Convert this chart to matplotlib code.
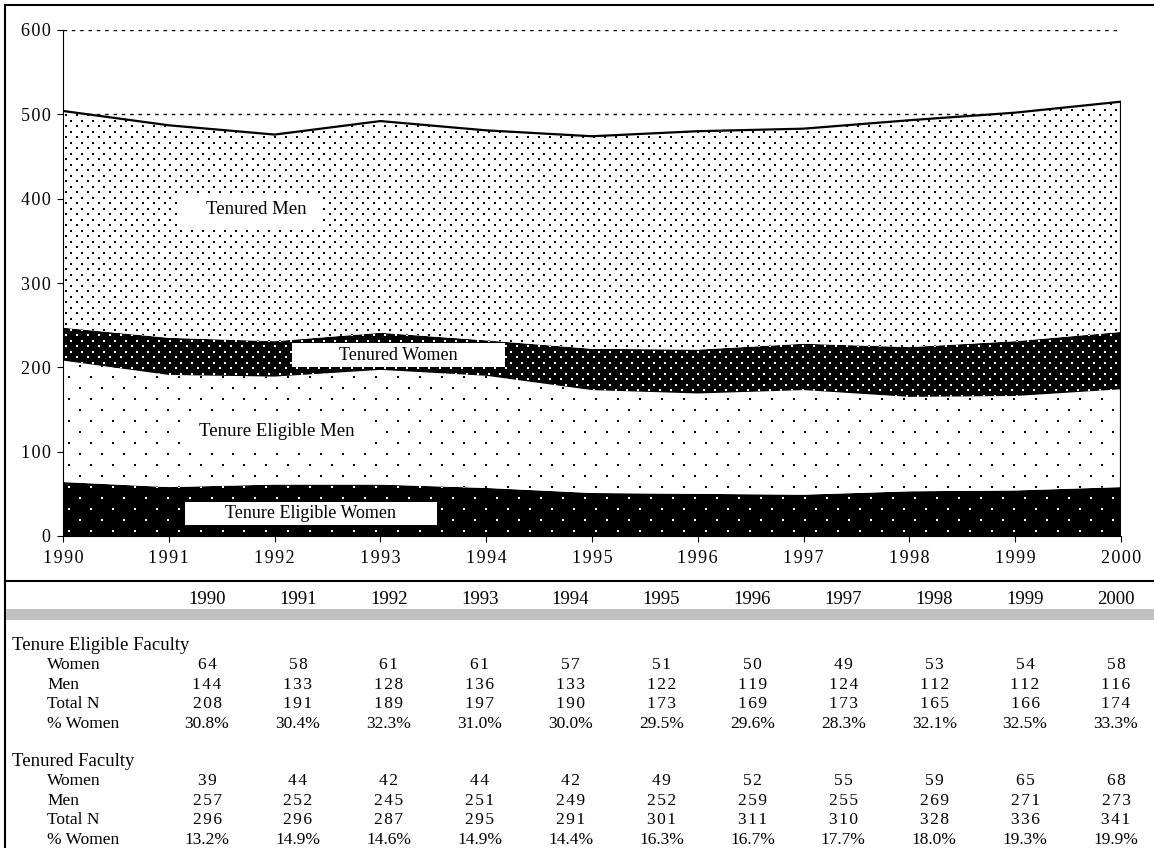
import numpy as np
import matplotlib.pyplot as plt
from matplotlib.patches import Rectangle
from matplotlib.lines import Line2D

plt.rcParams['font.family'] = ['Liberation Serif', 'DejaVu Serif']

# data
years = [1990, 1991, 1992, 1993, 1994, 1995, 1996, 1997, 1998, 1999, 2000]

te_women = [64, 58, 61, 61, 57, 51, 50, 49, 53, 54, 58]
te_men = [144, 133, 128, 136, 133, 122, 119, 124, 112, 112, 116]
te_total = [208, 191, 189, 197, 190, 173, 169, 173, 165, 166, 174]
te_pct = ['30.8%', '30.4%', '32.3%', '31.0%', '30.0%', '29.5%', '29.6%', '28.3%', '32.1%', '32.5%', '33.3%']

t_women = [39, 44, 42, 44, 42, 49, 52, 55, 59, 65, 68]
t_men = [257, 252, 245, 251, 249, 252, 259, 255, 269, 271, 273]
t_total = [296, 296, 287, 295, 291, 301, 311, 310, 328, 336, 341]
t_pct = ['13.2%', '14.9%', '14.6%', '14.9%', '14.4%', '16.3%', '16.7%', '17.7%', '18.0%', '19.3%', '19.9%']

W, H = 1154, 848
fig = plt.figure(figsize=(W / 100, H / 100), dpi=100)


def fx(x):
    return x / W


def fy(y):
    return 1 - y / H


def spaced(s):
    # a little tracking between characters
    s = str(s)
    if s.endswith('%'):
        return s
    return '\u200a'.join(s)


# chart area (pixel box 63..1121 x 30..536)
ax = fig.add_axes([fx(63), fy(536), fx(1121) - fx(63), fy(30) - fy(536)])
ax.set_xlim(1990, 2000)
ax.set_ylim(0, 600)

x = np.array(years, dtype=float)
b0 = np.zeros(len(x))
b1 = b0 + te_women
b2 = b1 + te_men
b3 = b2 + t_women
b4 = b3 + t_men

px_x = ax.bbox.width / 10.0    # pixels per year
px_y = ax.bbox.height / 600.0  # pixels per unit


def dx_(px):
    return 1990 + (px - 63) / px_x


def dy_(py):
    return (536 - py) / px_y


def dots(step_x, step_y):
    # staggered dot grid, spacing given in pixels
    dx = step_x / px_x
    dy = step_y / px_y
    xs, ys = [], []
    row = 0
    yy = dy * 0.5
    while yy < 600:
        off = 0 if row % 2 == 0 else dx / 2
        xx = np.arange(1990 + off + dx * 0.25, 2000, dx)
        xs.extend(xx)
        ys.extend([yy] * len(xx))
        yy += dy
        row += 1
    return np.array(xs), np.array(ys)


def band(lo, hi, face, dot_color, step_x, step_y, size):
    poly = ax.fill_between(x, lo, hi, facecolor=face, edgecolor='none', lw=0, zorder=2)
    xs, ys = dots(step_x, step_y)
    sc = ax.scatter(xs, ys, marker='s', s=size, c=dot_color, linewidths=0, zorder=3)
    sc.set_clip_path(poly.get_paths()[0], ax.transData)


band(b0, b1, 'black', 'white', 22, 11, 4.4)   # tenure eligible women
band(b1, b2, 'white', 'black', 22, 11, 3.6)   # tenure eligible men
band(b2, b3, 'black', 'white', 11, 5.5, 4.0)  # tenured women
band(b3, b4, 'white', 'black', 11, 5.5, 4.6)  # tenured men

ax.plot(x, b4, color='black', lw=1.6, zorder=4)
ax.plot([2000, 2000], [0, b4[-1]], color='black', lw=1.6, zorder=4)

# gridlines
ax.set_yticks(range(0, 601, 100))
ax.set_yticklabels([spaced(v) for v in range(0, 601, 100)])
ax.yaxis.grid(True, color='black', lw=1.0, linestyle=(0, (2.5, 3.5)), zorder=0)
ax.set_axisbelow(True)
ax.set_xticks(years)
ax.set_xticklabels([spaced(v) for v in years])
for s in ['top', 'right']:
    ax.spines[s].set_visible(False)
ax.spines['left'].set_linewidth(0.8)
ax.spines['bottom'].set_linewidth(0.8)
ax.tick_params(direction='out', length=4, width=0.8, labelsize=13)
ax.tick_params(axis='x', pad=6)
ax.tick_params(axis='y', pad=5)


def label(text, cx, cy, size, box=None):
    # box given as pixel extents (left, top, right, bottom)
    if box is not None:
        l, t, r, b = box
        ax.add_patch(Rectangle((dx_(l), dy_(b)), dx_(r) - dx_(l), dy_(t) - dy_(b),
                               facecolor='white', edgecolor='none', zorder=5))
    ax.text(dx_(cx), dy_(cy), text, ha='center', va='center', fontsize=size, zorder=6)


label('Tenured Men', 256, 209, 13.5, (180, 193, 320, 227))
label('Tenured Women', 398, 355, 13, (292, 343, 505, 367))
label('Tenure Eligible Men', 277, 432, 13.5, (184, 414, 366, 447))
label('Tenure Eligible Women', 310, 514, 13, (185, 502, 437, 525))

# frame and table rules
fig.patches.append(Rectangle((fx(5), fy(860)), fx(1180) - fx(5), fy(5) - fy(860),
                             transform=fig.transFigure, fill=False, edgecolor='black', lw=1.5))
fig.lines.append(Line2D([fx(5), 1], [fy(581), fy(581)], transform=fig.transFigure,
                        color='black', lw=1.5))
fig.patches.append(Rectangle((fx(6), fy(620)), 1 - fx(6), fy(609) - fy(620),
                             transform=fig.transFigure, facecolor='#c0c0c0', edgecolor='none'))

# data table
col_x = [207 + i * 90.9 for i in range(len(years))]
for cx, yr in zip(col_x, years):
    fig.text(fx(cx), fy(600), str(yr), ha='center', va='center', fontsize=13.5)

sections = [
    ('Tenure Eligible Faculty', 645, [('Women', te_women), ('Men', te_men),
                                      ('Total N', te_total), ('% Women', te_pct)]),
    ('Tenured Faculty', 761, [('Women', t_women), ('Men', t_men),
                              ('Total N', t_total), ('% Women', t_pct)]),
]
for title, y0, rows in sections:
    fig.text(fx(12), fy(y0), title, ha='left', va='center', fontsize=13.5)
    for k, (name, vals) in enumerate(rows):
        yy = y0 + 20 + k * 19.7
        fig.text(fx(47), fy(yy), name, ha='left', va='center', fontsize=12.5)
        for cx, v in zip(col_x, vals):
            fig.text(fx(cx), fy(yy), spaced(v), ha='center', va='center', fontsize=12.5)

fig.savefig('out.png', dpi=100)
